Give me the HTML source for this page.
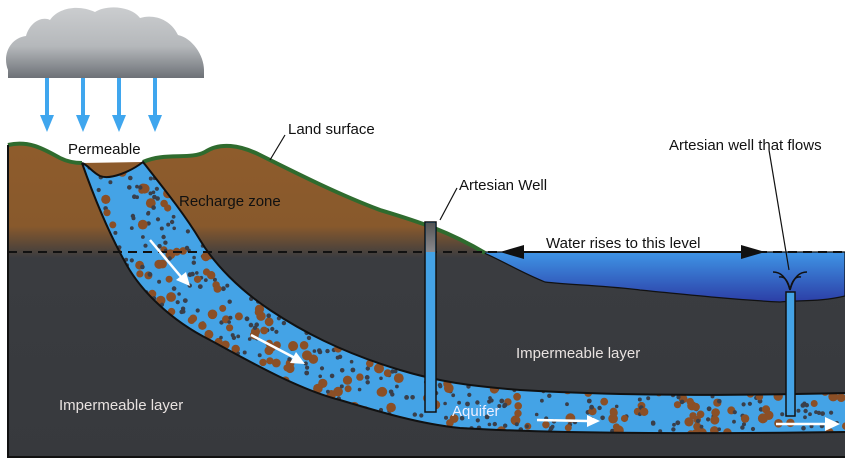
<!DOCTYPE html>
<html><head><meta charset="utf-8"><style>
html,body{margin:0;padding:0;background:#fff;width:845px;height:459px;overflow:hidden}
svg{display:block}
text{font-family:"Liberation Sans",sans-serif}
</style></head><body>
<svg id="s" width="845" height="459" viewBox="0 0 845 459" xmlns="http://www.w3.org/2000/svg">
<defs>
<linearGradient id="ground" gradientUnits="userSpaceOnUse" x1="0" y1="140" x2="0" y2="459">
<stop offset="0" stop-color="#8f5c2c"/><stop offset="0.27" stop-color="#88592c"/><stop offset="0.37" stop-color="#3a3c40"/><stop offset="1" stop-color="#37393d"/></linearGradient>
<linearGradient id="cloud" x1="0" y1="0" x2="0" y2="1"><stop offset="0" stop-color="#cbcdcf"/><stop offset="0.55" stop-color="#b5b8bb"/><stop offset="1" stop-color="#6d7177"/></linearGradient>
<linearGradient id="lake" x1="0" y1="0" x2="0" y2="1"><stop offset="0" stop-color="#3f95e6"/><stop offset="1" stop-color="#2c3ea6"/></linearGradient>
<linearGradient id="wellg" x1="0" y1="0" x2="0" y2="1"><stop offset="0" stop-color="#555"/><stop offset="1" stop-color="#8a8a8e"/></linearGradient>
<clipPath id="aqc"><path id="aqp" d="M82,163 C95,200 110,235 125,262 C140,290 170,320 210,340 C250,362 300,390 340,400 C380,412 420,424 460,428 C560,434 700,434 845,432 L845,393 C760,395 640,397 520,390 C470,386 440,382 400,370 C340,352 300,330 270,310 C240,290 215,265 200,240 C185,215 165,190 143,162 C130,172 110,180 100,176 C92,172 88,165 82,163 Z"/></clipPath>
</defs>
<path d="M8,145 C30,140 45,150 60,158 C70,163 78,163 82,163 L143,162 C165,152 190,160 205,152 C220,142 240,145 260,155 C300,175 340,195 380,210 C420,222 450,232 485,253 L845,253 L845,457 L8,457 Z" fill="url(#ground)"/>
<path d="M482,252 L845,252 L845,296 C820,302 800,300 780,302 C740,300 700,296 640,290 C600,285 570,285 545,282 C520,272 505,262 482,252 Z" fill="url(#lake)" stroke="#111" stroke-width="1.2"/>
<path d="M8,145 C30,140 45,150 60,158 C70,163 78,163 82,163 M143,162 C165,152 190,160 205,152 C220,142 240,145 260,155 C300,175 340,195 380,210 C420,222 450,232 485,253" fill="none" stroke="#2f6b2e" stroke-width="4"/>
<use href="#aqp" fill="#44a3e6" stroke="none"/>
<g id="dots" clip-path="url(#aqc)"></g>
<path d="M82,163 C95,200 110,235 125,262 C140,290 170,320 210,340 C250,362 300,390 340,400 C380,412 420,424 460,428 C560,434 700,434 845,432 M845,393 C760,395 640,397 520,390 C470,386 440,382 400,370 C340,352 300,330 270,310 C240,290 215,265 200,240 C185,215 165,190 143,162 C130,172 110,180 100,176 C92,172 88,165 82,163" fill="none" stroke="#111" stroke-width="2"/>
<line x1="8" y1="252" x2="845" y2="252" stroke="#111" stroke-width="2" stroke-dasharray="9,6"/>
<path d="M8,145 L8,457 L845,457" fill="none" stroke="#111" stroke-width="2"/>
<rect x="425" y="222" width="11" height="190" fill="#44a3e6" stroke="#111" stroke-width="1.5"/>
<rect x="426" y="223" width="9" height="29" fill="url(#wellg)"/>
<rect x="786" y="292" width="9" height="124" fill="#44a3e6" stroke="#111" stroke-width="1.5"/>
<g fill="none" stroke="#111" stroke-width="1.5">
<path d="M790,290 C786,276 780,272 773,272"/><path d="M790,290 C794,276 800,272 807,272"/>
<path d="M790,290 C788,280 784,276 779,277"/><path d="M790,290 C792,280 796,276 801,277"/>
</g>
<g stroke="#fff" stroke-width="2.5" fill="#fff">
<line x1="150" y1="240" x2="182" y2="278"/><path d="M190,286 L176,280 L186,272 Z" stroke="none"/>
<line x1="251" y1="335" x2="295" y2="358"/><path d="M305,364 L290,363 L296,352 Z" stroke="none"/>
<line x1="537" y1="420" x2="588" y2="421"/><path d="M600,421 L587,415 L587,427 Z" stroke="none"/>
<line x1="776" y1="424" x2="826" y2="424"/><path d="M840,424 L825,417 L825,431 Z" stroke="none"/>
</g>
<path d="M8,70 C2,55 10,38 26,36 C30,22 42,16 50,20 C58,8 78,4 95,12 C105,5 130,5 140,18 C152,14 170,18 178,35 C192,38 204,55 204,70 L204,78 L8,78 Z" fill="url(#cloud)"/>
<g stroke="#3fa6ee" stroke-width="4" fill="#3fa6ee">
<line x1="47" y1="78" x2="47" y2="118"/><path d="M40,115 L54,115 L47,132 Z" stroke="none"/>
<line x1="83" y1="78" x2="83" y2="118"/><path d="M76,115 L90,115 L83,132 Z" stroke="none"/>
<line x1="119" y1="78" x2="119" y2="118"/><path d="M112,115 L126,115 L119,132 Z" stroke="none"/>
<line x1="155" y1="78" x2="155" y2="118"/><path d="M148,115 L162,115 L155,132 Z" stroke="none"/>
</g>
<line x1="515" y1="252" x2="745" y2="252" stroke="#111" stroke-width="2"/>
<path d="M500,252 L524,245 L524,259 Z" fill="#111"/><path d="M765,252 L741,245 L741,259 Z" fill="#111"/>
<g stroke="#111" stroke-width="1.2">
<line x1="285" y1="135" x2="270" y2="160"/>
<line x1="457" y1="188" x2="440" y2="220"/>
<line x1="769" y1="150" x2="789" y2="270"/>
</g>
<g fill="#111" font-size="15">
<text x="68" y="154">Permeable</text>
<text x="288" y="134">Land surface</text>
<text x="179" y="206">Recharge zone</text>
<text x="459" y="190">Artesian Well</text>
<text x="669" y="150">Artesian well that flows</text>
<text x="546" y="248">Water rises to this level</text>
</g>
<g fill="#e8e2e0" font-size="15">
<text x="516" y="358">Impermeable layer</text>
<text x="59" y="410">Impermeable layer</text>
<text x="452" y="416" fill="#eef">Aquifer</text>
</g>
</svg>
<script>
(function(){
var g=document.getElementById('dots');var seed=7;
function r(){seed=(seed*16807)%2147483647;return seed/2147483647;}
var html='';
for(var i=0;i<2000;i++){var x=80+r()*770,y=160+r()*280;
var brown=r()<0.33;var rad=brown?(3.5+r()*1.5):(1.8+r()*0.6);
html+='<circle cx="'+x.toFixed(1)+'" cy="'+y.toFixed(1)+'" r="'+rad.toFixed(1)+'" fill="'+(brown?'#8b4f26':'#3a3f4a')+'"/>';}
g.innerHTML=html;})();
</script>
</body></html>
